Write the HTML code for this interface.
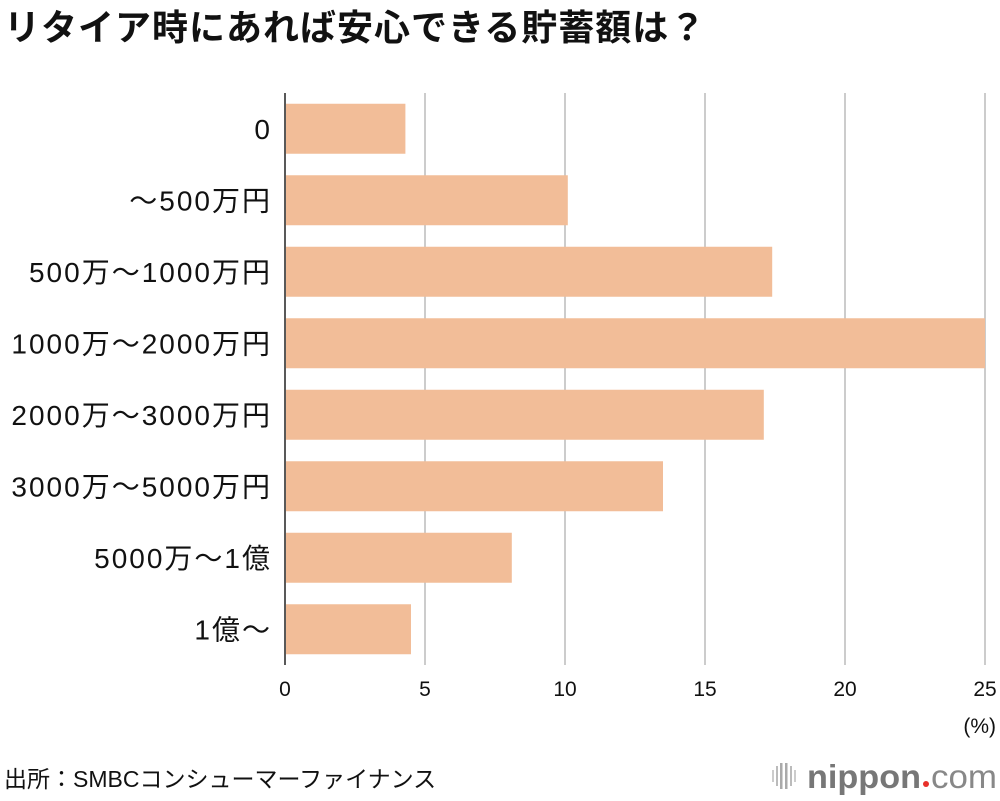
<!DOCTYPE html>
<html><head><meta charset="utf-8"><style>
body{margin:0;background:#fff;width:1000px;height:796px;overflow:hidden;font-family:"Liberation Sans","Noto Sans CJK JP",sans-serif;}
svg text{font-family:"Liberation Sans","Noto Sans CJK JP",sans-serif;}
</style></head><body>
<svg id="chart" width="1000" height="796" viewBox="0 0 1000 796">
<text x="4" y="40" font-size="36" font-weight="bold" fill="#111" letter-spacing="1">リタイア時にあれば安心できる貯蓄額は？</text>
<g id="grid"></g><g id="bars"></g><g id="ylabels"></g><g id="xticks"></g>
<text x="996" y="733" font-size="21" text-anchor="end" fill="#111">(%)</text>
<text x="4" y="787" font-size="23" fill="#111">出所：SMBCコンシューマーファイナンス</text>
<g>
<rect x="772" y="770" width="2" height="12" fill="#ccc"/><rect x="776" y="766" width="2" height="20" fill="#bbb"/><rect x="780" y="763" width="2.5" height="26" fill="#aaa"/><rect x="785" y="763" width="2.5" height="26" fill="#aaa"/><rect x="790" y="766" width="2" height="20" fill="#bbb"/><rect x="794" y="770" width="2" height="12" fill="#ccc"/>
<text x="807" y="788" font-size="33" font-weight="bold" fill="#777" textLength="114" lengthAdjust="spacingAndGlyphs">nippon</text>
<circle cx="926" cy="784" r="3" fill="#e8302a"/>
<text x="931" y="788" font-size="33" fill="#888" textLength="66" lengthAdjust="spacingAndGlyphs">com</text>
</g>
</svg>
<script>
const categories=["0","～500万円","500万～1000万円","1000万～2000万円","2000万～3000万円","3000万～5000万円","5000万～1億","1億～"];
const values=[4.3,10.1,17.4,25.0,17.1,13.5,8.1,4.5];
const xTicks=[0,5,10,15,20,25];
const NS="http://www.w3.org/2000/svg";
const x0=285,x1=985,xMax=25,plotTop=93,plotBottom=665;
const xs=v=>x0+(v/xMax)*(x1-x0);
const band=(plotBottom-plotTop)/categories.length;
function mk(t,a,p){const e=document.createElementNS(NS,t);for(const k in a)e.setAttribute(k,a[k]);document.getElementById(p).appendChild(e);return e;}
xTicks.forEach(t=>{
 const l=mk('line',{x1:xs(t),x2:xs(t),y1:plotTop,y2:plotBottom,stroke:t===0?'#222':'#ccc','stroke-width':t===0?1.5:2},'grid');
 
 
 const tx=mk('text',{x:xs(t),y:696,'font-size':21,'text-anchor':'middle',fill:'#111'},'xticks');
 tx.textContent=t;
 
 
});
categories.forEach((c,i)=>{
 const yc=plotTop+band*(i+0.5);
 const r=mk('rect',{x:x0+1,y:yc-25,width:xs(values[i])-x0-1,height:50,fill:'#f2bd98'},'bars');
 
 
 const t=mk('text',{x:272,y:yc+10,'font-size':28,'letter-spacing':2,'text-anchor':'end',fill:'#111'},'ylabels');
 t.textContent=c;
 
 
});
</script>
</body></html>
